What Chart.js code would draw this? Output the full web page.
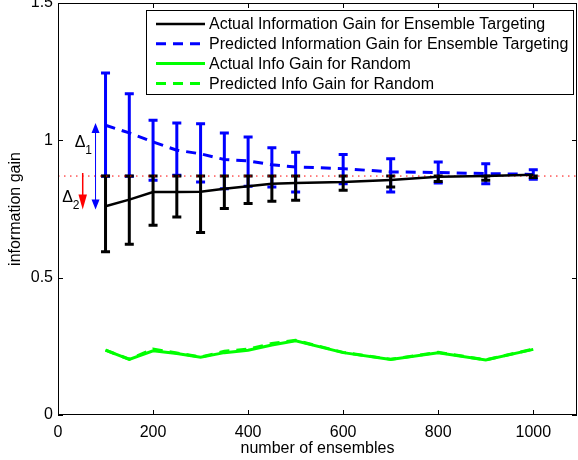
<!DOCTYPE html>
<html>
<head>
<meta charset="utf-8">
<script src="https://cdn.jsdelivr.net/npm/chart.js@4"></script>
<style>
  body { margin: 0; background: #fff; }
</style>
</head>
<body>
<canvas id="gainChart" width="578" height="460"></canvas>
<script>
// values
const ensembles = [100, 150, 200, 250, 300, 350, 400, 450, 500, 600, 700, 800, 900, 1000];

const actualTarget     = [0.760, 0.784, 0.812, 0.812, 0.813, 0.824, 0.833, 0.842, 0.845, 0.848, 0.856, 0.867, 0.870, 0.875];
const actualTargetLow  = [0.594, 0.622, 0.691, 0.721, 0.664, 0.752, 0.770, 0.778, 0.782, 0.818, 0.830, 0.850, 0.855, 0.865];
const actualTargetHigh = [0.870, 0.870, 0.870, 0.870, 0.870, 0.870, 0.870, 0.870, 0.870, 0.870, 0.870, 0.870, 0.870, 0.870];

const predTarget     = [1.055, 1.027, 0.994, 0.964, 0.951, 0.930, 0.925, 0.911, 0.903, 0.897, 0.885, 0.883, 0.879, 0.876];
const predTargetLow  = [0.869, 0.869, 0.855, 0.873, 0.848, 0.824, 0.833, 0.830, 0.812, 0.842, 0.812, 0.845, 0.842, 0.858];
const predTargetHigh = [1.245, 1.170, 1.073, 1.063, 1.060, 1.027, 1.012, 0.973, 0.957, 0.948, 0.933, 0.921, 0.915, 0.893];

const actualRandom = [0.236, 0.202, 0.234, 0.224, 0.210, 0.227, 0.236, 0.255, 0.270, 0.227, 0.202, 0.227, 0.200, 0.239];
const predRandom   = [0.236, 0.203, 0.240, 0.226, 0.211, 0.232, 0.240, 0.260, 0.272, 0.228, 0.203, 0.228, 0.201, 0.240];

const refLevel = 0.870;

const seriesLabels = [
  'Actual Information Gain for Ensemble Targeting',
  'Predicted Information Gain for Ensemble Targeting',
  'Actual Info Gain for Random',
  'Predicted Info Gain for Random'
];

const xTicks = [0, 200, 400, 600, 800, 1000];
const yTicks = [0, 0.5, 1, 1.5];
const xRange = [0, 1092];
const yRange = [0, 1.5];

// delta annotations (data coords): arrow x, from, to
const delta1Arrow = [79, 0.748, 1.063];
const delta2Arrow = [52, 0.881, 0.748];
const delta1Text = [35, 0.975];
const delta2Text = [9, 0.775];

const FONT = 'Arial, "Liberation Sans", sans-serif';

function pts(ys) {
  return ensembles.map(function(x, i){ return {x: x, y: ys[i]}; });
}

// dibuja flecha con punta triangular
function arrowHead(ctx, x, y, dir, w, h, color) {
  ctx.fillStyle = color;
  ctx.beginPath();
  ctx.moveTo(x, y);
  ctx.lineTo(x - w / 2, y - dir * h);
  ctx.lineTo(x + w / 2, y - dir * h);
  ctx.closePath();
  ctx.fill();
}

function errorBars(chart, lo, hi, color) {
  const ctx = chart.ctx, xs = chart.scales.x, ys = chart.scales.y;
  ctx.save();
  ctx.strokeStyle = color;
  ctx.lineWidth = 3;
  ensembles.forEach(function(v, i){
    const px = xs.getPixelForValue(v);
    const pl = ys.getPixelForValue(lo[i]);
    const ph = ys.getPixelForValue(hi[i]);
    ctx.beginPath();
    ctx.moveTo(px, pl); ctx.lineTo(px, ph);
    ctx.moveTo(px - 4.5, pl); ctx.lineTo(px + 4.5, pl);
    ctx.moveTo(px - 4.5, ph); ctx.lineTo(px + 4.5, ph);
    ctx.stroke();
  });
  ctx.restore();
}

const matlabLook = {
  id: 'matlabLook',
  beforeDatasetsDraw: function(chart) {
    errorBars(chart, predTargetLow, predTargetHigh, '#0000ff');
    errorBars(chart, actualTargetLow, actualTargetHigh, '#000000');
  },
  afterDatasetsDraw: function(chart) {
    const ctx = chart.ctx, a = chart.chartArea;
    const xs = chart.scales.x, ys = chart.scales.y;
    ctx.save();

    // marco y ticks hacia dentro
    ctx.strokeStyle = '#000';
    ctx.lineWidth = 1;
    ctx.strokeRect(a.left + 0.5, a.top + 0.5, a.right - a.left - 1, a.bottom - a.top - 1);
    ctx.beginPath();
    xTicks.forEach(function(v){
      const px = Math.round(xs.getPixelForValue(v)) + 0.5;
      ctx.moveTo(px, a.bottom); ctx.lineTo(px, a.bottom - 5);
      ctx.moveTo(px, a.top); ctx.lineTo(px, a.top + 5);
    });
    yTicks.forEach(function(v){
      const py = Math.round(ys.getPixelForValue(v)) + 0.5;
      ctx.moveTo(a.left, py); ctx.lineTo(a.left + 5, py);
      ctx.moveTo(a.right, py); ctx.lineTo(a.right - 5, py);
    });
    ctx.stroke();

    // flecha azul (doble) para delta 1
    let bx = xs.getPixelForValue(delta1Arrow[0]);
    let b0 = ys.getPixelForValue(delta1Arrow[1]);
    let b1 = ys.getPixelForValue(delta1Arrow[2]);
    ctx.strokeStyle = '#0000ff';
    ctx.lineWidth = 1;
    ctx.beginPath(); ctx.moveTo(bx, b0 - 8); ctx.lineTo(bx, b1 + 8); ctx.stroke();
    arrowHead(ctx, bx, b1, -1, 8, 10, '#0000ff');
    arrowHead(ctx, bx, b0, 1, 8, 10, '#0000ff');

    // flecha roja para delta 2
    let rx = xs.getPixelForValue(delta2Arrow[0]);
    let r0 = ys.getPixelForValue(delta2Arrow[1]);
    let r1 = ys.getPixelForValue(delta2Arrow[2]);
    ctx.strokeStyle = '#ff0000';
    ctx.lineWidth = 1.5;
    ctx.beginPath(); ctx.moveTo(rx, r0); ctx.lineTo(rx, r1 - 10); ctx.stroke();
    arrowHead(ctx, rx, r1, 1, 8.5, 15, '#ff0000');

    // etiquetas delta
    ctx.fillStyle = '#000';
    ctx.textBaseline = 'alphabetic';
    ctx.textAlign = 'left';
    let tx = xs.getPixelForValue(delta1Text[0]), ty = ys.getPixelForValue(delta1Text[1]);
    ctx.font = '16px ' + FONT;
    ctx.fillText('\u0394', tx, ty);
    ctx.font = '12px ' + FONT;
    ctx.fillText('1', tx + 10.5, ty + 7);
    tx = xs.getPixelForValue(delta2Text[0]); ty = ys.getPixelForValue(delta2Text[1]);
    ctx.font = '16px ' + FONT;
    ctx.fillText('\u0394', tx, ty);
    ctx.font = '12px ' + FONT;
    ctx.fillText('2', tx + 10.5, ty + 7);

    // leyenda
    const box = {l: 146.5, t: 10.5, r: 573.5, b: 94.5};
    ctx.fillStyle = '#fff';
    ctx.fillRect(box.l, box.t, box.r - box.l, box.b - box.t);
    ctx.strokeStyle = '#000';
    ctx.lineWidth = 1;
    ctx.strokeRect(box.l, box.t, box.r - box.l, box.b - box.t);
    ctx.font = '16px ' + FONT;
    ctx.textBaseline = 'middle';
    for (let i = 0; i < 4; i++) {
      const ds = chart.data.datasets[i];
      const rowY = 24 + i * 19.8;
      ctx.strokeStyle = ds.borderColor;
      ctx.lineWidth = ds.borderWidth;
      ctx.setLineDash(ds.borderDash || []);
      ctx.beginPath(); ctx.moveTo(156, rowY); ctx.lineTo(205, rowY); ctx.stroke();
      ctx.setLineDash([]);
      ctx.fillStyle = '#000';
      ctx.fillText(ds.label, 209, rowY + 1);
    }
    ctx.restore();
  }
};

new Chart(document.getElementById('gainChart'), {
  type: 'line',
  data: {
    datasets: [
      { label: seriesLabels[0], data: pts(actualTarget), borderColor: '#000000', borderWidth: 2.5 },
      { label: seriesLabels[1], data: pts(predTarget), borderColor: '#0000ff', borderWidth: 3, borderDash: [10, 7] },
      { label: seriesLabels[2], data: pts(actualRandom), borderColor: '#00ff00', borderWidth: 3 },
      { label: seriesLabels[3], data: pts(predRandom), borderColor: '#00ff00', borderWidth: 3, borderDash: [10, 7] },
      { label: 'ref', data: [{x: xRange[0], y: refLevel}, {x: xRange[1], y: refLevel}],
        borderColor: '#ff0000', borderWidth: 1, borderDash: [1.5, 4.5] }
    ]
  },
  options: {
    responsive: false,
    animation: false,
    devicePixelRatio: 1,
    layout: { padding: { top: 3, right: 1, left: 0, bottom: 0 } },
    elements: { point: { radius: 0 }, line: { tension: 0, fill: false } },
    plugins: { legend: { display: false }, tooltip: { enabled: false } },
    scales: {
      x: {
        type: 'linear',
        min: xRange[0], max: xRange[1],
        afterBuildTicks: function(s){ s.ticks = xTicks.map(function(v){ return {value: v}; }); },
        afterFit: function(s){ s.height = 45; s.paddingRight = 0; s.paddingLeft = 0; },
        grid: { display: false, drawTicks: false },
        border: { display: false },
        ticks: { color: '#000', font: { size: 16, family: FONT }, padding: 8, maxRotation: 0,
                  callback: function(v){ return String(v); } },
        title: { display: true, text: 'number of ensembles', color: '#000',
                 font: { size: 16, family: FONT }, padding: { top: 0, bottom: 2 } }
      },
      y: {
        min: yRange[0], max: yRange[1],
        afterBuildTicks: function(s){ s.ticks = yTicks.map(function(v){ return {value: v}; }); },
        afterFit: function(s){ s.width = 58; s.paddingTop = 0; s.paddingBottom = 0; },
        grid: { display: false, drawTicks: false },
        border: { display: false },
        ticks: { color: '#000', font: { size: 16, family: FONT }, padding: 5,
                  callback: function(v){ return String(v); } },
        title: { display: true, text: 'information gain', color: '#000',
                 font: { size: 16, family: FONT }, padding: { top: 6, bottom: 0 } }
      }
    }
  },
  plugins: [matlabLook]
});
</script>
</body>
</html>
